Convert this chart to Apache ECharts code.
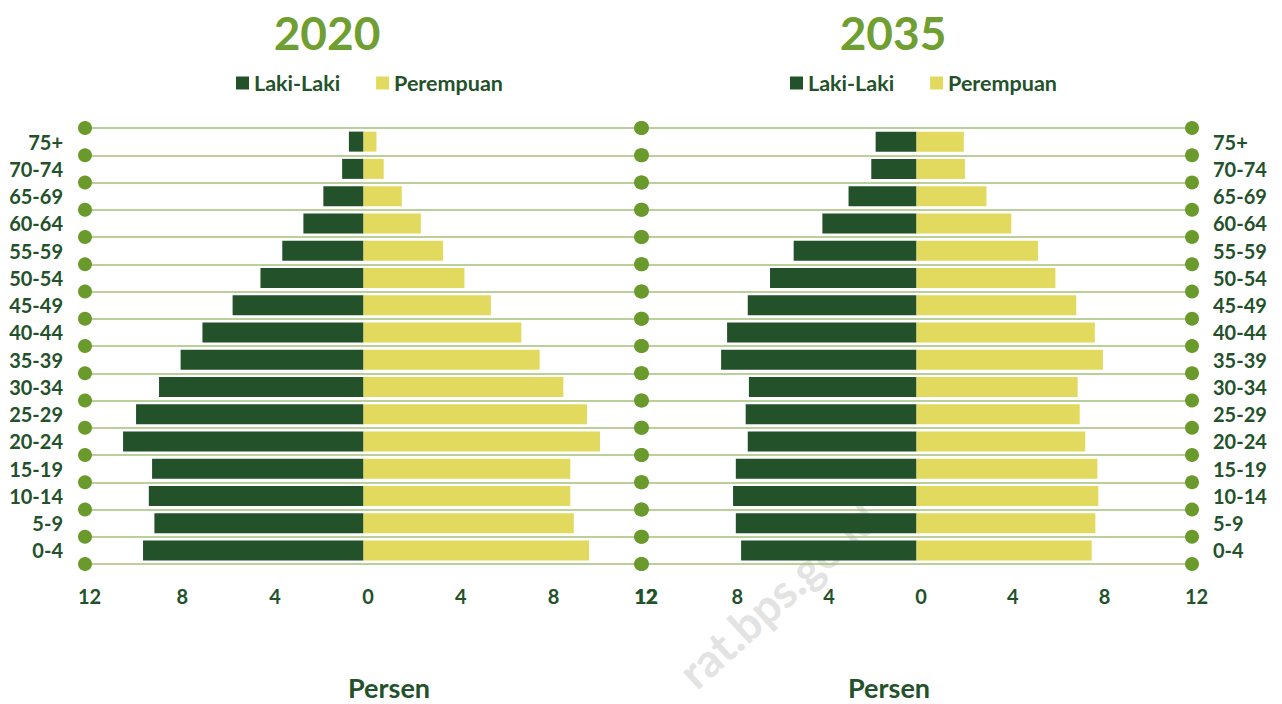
<!DOCTYPE html>
<html>
<head>
<meta charset="utf-8">
<script src="https://cdn.jsdelivr.net/npm/echarts@6/dist/echarts.min.js"></script>
<style>
html,body{margin:0;padding:0;background:#fff;}
#chart{width:1282px;height:704px;}
</style>
</head>
<body>
<div id="chart"></div>
<script>
// Age groups, bottom to top
const ageGroups = ['0-4','5-9','10-14','15-19','20-24','25-29','30-34','35-39','40-44','45-49','50-54','55-59','60-64','65-69','70-74','75+'];
// Percent of population, 2020
const male2020   = [9.50, 9.01, 9.25, 9.11, 10.36, 9.80, 8.81, 7.88, 6.94, 5.64, 4.44, 3.50, 2.59, 1.73, 0.92, 0.63];
const female2020 = [9.72, 9.06, 8.91, 8.91, 10.19, 9.63, 8.61, 7.59, 6.80, 5.49, 4.35, 3.43, 2.47, 1.65, 0.87, 0.56];
// Percent of population, 2035
const male2035   = [7.64, 7.87, 7.99, 7.87, 7.35, 7.44, 7.30, 8.51, 8.25, 7.35, 6.38, 5.35, 4.10, 2.96, 1.97, 1.78];
const female2035 = [7.63, 7.79, 7.92, 7.88, 7.35, 7.11, 7.02, 8.12, 7.77, 6.96, 6.05, 5.29, 4.13, 3.05, 2.11, 2.06];
const xTicks = [-12, -8, -4, 0, 4, 8, 12];
const years = ['2020', '2035'];
const legendNames = ['Laki-Laki', 'Perempuan'];
const axisName = 'Persen';

const FONT = 'Lato';
const DARK = '#23512a';
const YELLOW = '#e2da5e';
const TITLE_GREEN = '#6f9e31';
const LINE_GREEN = '#a3c17a';
const DOT_GREEN = '#6a9a2c';

const xMin = xTicks[0], xMax = xTicks[xTicks.length - 1];
const boundaries = [];
for (let k = 0; k <= ageGroups.length; k++) boundaries.push(k);
const dotData = [];
boundaries.forEach(b => { dotData.push([xMin, b]); dotData.push([xMax, b]); });

const grids = [
  {left: 85, width: 557, top: 128, height: 436},
  {left: 641, width: 551, top: 128, height: 436}
];

const xAxes = [0, 1].map(i => ({
  type: 'value', gridIndex: i, min: xMin, max: xMax, interval: xTicks[1] - xTicks[0],
  axisLine: {show: false}, axisTick: {show: false}, splitLine: {show: false},
  axisLabel: {
    formatter: v => String(Math.abs(v)), margin: 22, padding: [0, 0, 0, 9],
    fontFamily: FONT, fontWeight: 'bold', fontSize: 20, color: DARK
  }
}));

const yAxes = [];
[0, 1].forEach(i => {
  yAxes.push({
    type: 'category', gridIndex: i, data: ageGroups, position: i === 0 ? 'left' : 'right',
    axisLine: {show: false}, axisTick: {show: false}, splitLine: {show: false},
    axisLabel: {margin: i === 0 ? 22 : 21, fontFamily: FONT, fontWeight: 'bold', fontSize: 20, color: DARK}
  });
  yAxes.push({
    type: 'value', gridIndex: i, min: 0, max: ageGroups.length, interval: 1, show: true,
    axisLine: {show: false}, axisTick: {show: false}, axisLabel: {show: false},
    splitLine: {show: true, lineStyle: {color: LINE_GREEN, width: 1.5}}
  });
});

const series = [];
const data = [[male2020, female2020], [male2035, female2035]];
[0, 1].forEach(i => {
  series.push({
    type: 'scatter', name: 'dots' + i, xAxisIndex: i, yAxisIndex: i * 2 + 1,
    data: dotData, symbolSize: 14, itemStyle: {color: DOT_GREEN, opacity: 1}, silent: true, z: 3, clip: false
  });
  series.push({
    type: 'bar', name: legendNames[0], xAxisIndex: i, yAxisIndex: i * 2, stack: 'p' + i,
    data: data[i][0].map(v => -v), barWidth: 20, itemStyle: {color: DARK}, z: 4
  });
  series.push({
    type: 'bar', name: legendNames[1], xAxisIndex: i, yAxisIndex: i * 2, stack: 'p' + i,
    data: data[i][1], barWidth: 20, itemStyle: {color: YELLOW}, z: 4,
    markLine: {
      silent: true, symbol: 'none', label: {show: false},
      lineStyle: {color: '#b9c9e2', width: 3, type: 'solid', shadowBlur: 3, shadowColor: '#c9d5ea'},
      data: [{xAxis: 0}]
    }
  });
});

const legends = [236, 790].map(l => ({
  data: legendNames, left: l, top: 72, padding: 0, icon: 'rect', itemWidth: 13, itemHeight: 13, itemGap: 36,
  textStyle: {fontFamily: FONT, fontWeight: 'bold', fontSize: 21.5, color: DARK}
}));

const graphics = [
  {type: 'text', x: 870, y: 510, rotation: 0.74, z: -10, silent: true,
   style: {text: 'rat.bps.go.id', fill: '#e3e3e3', font: 'bold 46px Lato', textAlign: 'right', textVerticalAlign: 'middle'}},
  {type: 'text', x: 327, y: 32, style: {text: years[0], fill: TITLE_GREEN, font: 'bold 46px Lato', textAlign: 'center', textVerticalAlign: 'middle'}},
  {type: 'text', x: 893, y: 32, style: {text: years[1], fill: TITLE_GREEN, font: 'bold 46px Lato', textAlign: 'center', textVerticalAlign: 'middle'}},
  {type: 'text', x: 389, y: 687, style: {text: axisName, fill: DARK, font: 'bold 27px Lato', textAlign: 'center', textVerticalAlign: 'middle'}},
  {type: 'text', x: 889, y: 687, style: {text: axisName, fill: DARK, font: 'bold 27px Lato', textAlign: 'center', textVerticalAlign: 'middle'}}
];

const chart = echarts.init(document.getElementById('chart'), null, {renderer: 'svg'});
chart.setOption({
  animation: false,
  backgroundColor: '#ffffff',
  grid: grids,
  xAxis: xAxes,
  yAxis: yAxes,
  legend: legends,
  series: series,
  graphic: graphics
});
</script>
</body>
</html>
